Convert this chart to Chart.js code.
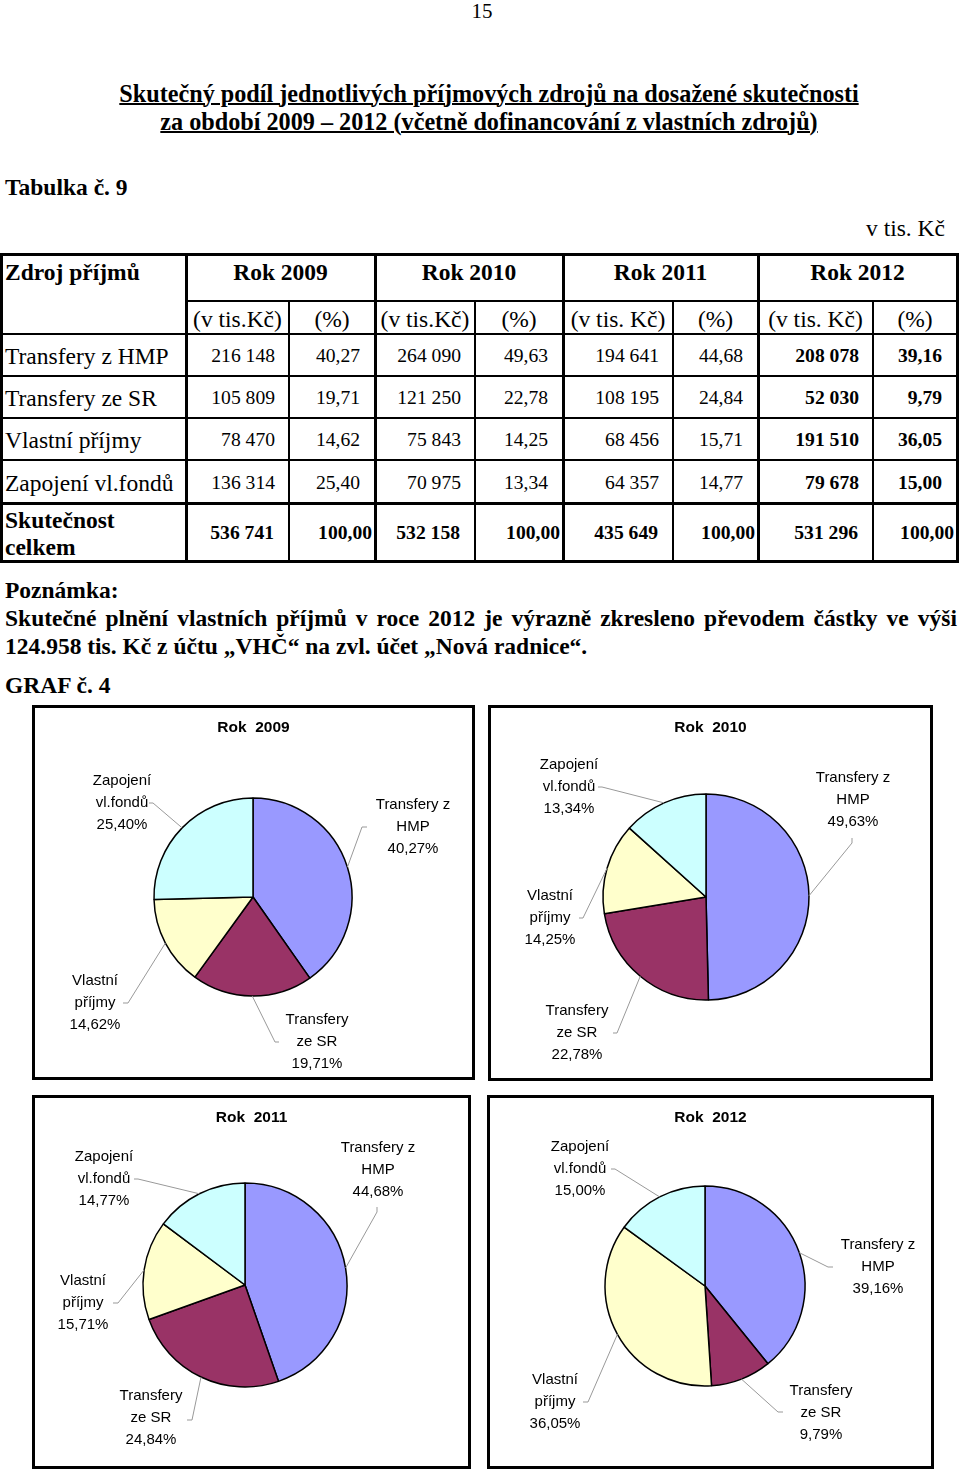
<!DOCTYPE html>
<html lang="cs">
<head>
<meta charset="utf-8">
<title>Graf č. 4</title>
<script src="https://cdn.jsdelivr.net/npm/chart.js"></script>
<style>
  html, body { margin: 0; padding: 0; background: #fff; }
  body { width: 960px; height: 1473px; position: relative; overflow: hidden;
         font-family: "Liberation Serif", "Times New Roman", serif; color: #000; }
  #page { position: absolute; left: 0; top: 0; width: 960px; height: 1473px; }
  .t { position: absolute; white-space: nowrap; }
  .ln { position: absolute; background: #000; }
  .box { position: absolute; border: 3px solid #000; box-sizing: border-box; background: #fff; }
  .box canvas { position: absolute; left: 0; top: 0; }
</style>
</head>
<body>
<div id="page"></div>
<script>
// ---- data ----
const categories = ['Transfery z HMP', 'Transfery ze SR', 'Vlastní příjmy', 'Zapojení vl.fondů'];
const pieLabels = [['Transfery z', 'HMP'], ['Transfery', 'ze SR'], ['Vlastní', 'příjmy'], ['Zapojení', 'vl.fondů']];
const years = ['Rok 2009', 'Rok 2010', 'Rok 2011', 'Rok 2012'];
const unitHeads = ['(v tis.Kč)', '(v tis.Kč)', '(v tis. Kč)', '(v tis. Kč)'];

const amounts2009 = [216148, 105809, 78470, 136314];
const amounts2010 = [264090, 121250, 75843, 70975];
const amounts2011 = [194641, 108195, 68456, 64357];
const amounts2012 = [208078, 52030, 191510, 79678];

const pct2009 = [40.27, 19.71, 14.62, 25.40];
const pct2010 = [49.63, 22.78, 14.25, 13.34];
const pct2011 = [44.68, 24.84, 15.71, 14.77];
const pct2012 = [39.16, 9.79, 36.05, 15.00];

const totals = [536741, 532158, 435649, 531296];

const amounts = [amounts2009, amounts2010, amounts2011, amounts2012];
const pcts = [pct2009, pct2010, pct2011, pct2012];
const colors = ['#9999FF', '#993366', '#FFFFCC', '#CCFFFF'];

// ---- helpers ----
const page = document.getElementById('page');

function num(n) { return String(n).replace(/\B(?=(\d{3})+(?!\d))/g, ' '); }
function pc(p) { return p.toFixed(2).replace('.', ','); }

function txt(x, y, s, o) {
  o = o || {};
  const d = document.createElement('div');
  d.className = 't';
  const size = o.size || 23.5;
  const lh = Math.round(size * 1.2);
  d.style.fontSize = size + 'px';
  d.style.lineHeight = lh + 'px';
  d.style.top = (y - lh / 2) + 'px';
  if (o.bold) d.style.fontWeight = 'bold';
  if (o.u) { d.style.textDecoration = 'underline'; d.style.textDecorationThickness = '2px'; }
  const al = o.align || 'left';
  if (al === 'left') d.style.left = x + 'px';
  else if (al === 'center') { d.style.left = (x - 600) + 'px'; d.style.width = '1200px'; d.style.textAlign = 'center'; }
  else { d.style.left = (x - 1200) + 'px'; d.style.width = '1200px'; d.style.textAlign = 'right'; }
  d.textContent = s;
  page.appendChild(d);
  return d;
}
function hline(x0, x1, y, t) {
  const d = document.createElement('div'); d.className = 'ln';
  d.style.left = x0 + 'px'; d.style.width = (x1 - x0) + 'px';
  d.style.top = Math.round(y - t / 2) + 'px'; d.style.height = t + 'px';
  page.appendChild(d);
}
function vline(x, y0, y1, t) {
  const d = document.createElement('div'); d.className = 'ln';
  d.style.top = y0 + 'px'; d.style.height = (y1 - y0) + 'px';
  d.style.left = Math.round(x - t / 2) + 'px'; d.style.width = t + 'px';
  page.appendChild(d);
}

// ---- page text ----
txt(482, 11, '15', { size: 21, align: 'center' });
txt(489, 93, 'Skutečný podíl jednotlivých příjmových zdrojů na dosažené skutečnosti', { size: 24.2, bold: true, u: true, align: 'center' });
txt(489, 121, 'za období 2009 – 2012 (včetně dofinancování z vlastních zdrojů)', { size: 24.2, bold: true, u: true, align: 'center' });
txt(5, 187, 'Tabulka č. 9', { bold: true });
txt(945, 228, 'v tis. Kč', { align: 'right' });

// ---- table ----
const xs = [1, 186, 289, 375, 475, 563, 673, 758, 873, 957];
const ys = [254, 301, 334, 376, 418, 460, 503, 561];

hline(0, 959, ys[0], 3);
hline(xs[1], 959, ys[1], 2);
for (let k = 2; k <= 5; k++) hline(0, 959, ys[k], 2);
hline(0, 959, ys[6], 3);
hline(0, 959, ys[7], 3);
[0, 1, 3, 5, 7, 9].forEach(i => vline(xs[i], ys[0], ys[7] + 1, 3));
[2, 4, 6, 8].forEach(i => vline(xs[i], ys[1], ys[7] + 1, 2));

txt(5, 272, 'Zdroj příjmů', { bold: true });
years.forEach((y, j) => {
  txt((xs[1 + 2 * j] + xs[3 + 2 * j]) / 2, 272, y, { bold: true, align: 'center' });
  txt((xs[1 + 2 * j] + xs[2 + 2 * j]) / 2, 319, unitHeads[j], { align: 'center' });
  txt((xs[2 + 2 * j] + xs[3 + 2 * j]) / 2, 319, '(%)', { align: 'center' });
});

categories.forEach((c, i) => {
  const yc = (ys[2 + i] + ys[3 + i]) / 2 + 1;
  txt(5, yc, c);
  for (let j = 0; j < 4; j++) {
    const b = j === 3;
    txt(xs[2 + 2 * j] - 14, yc, num(amounts[j][i]), { size: 19.6, bold: b, align: 'right' });
    txt(xs[3 + 2 * j] - 15, yc, pc(pcts[j][i]), { size: 19.6, bold: b, align: 'right' });
  }
});
txt(5, 520, 'Skutečnost', { bold: true });
txt(5, 547, 'celkem', { bold: true });
totals.forEach((t, j) => {
  txt(xs[2 + 2 * j] - 15, 533, num(t), { size: 19.6, bold: true, align: 'right' });
  txt(xs[3 + 2 * j] - 3, 533, pc(100), { size: 19.6, bold: true, align: 'right' });
});

// ---- note ----
txt(5, 590, 'Poznámka:', { bold: true });
const n1 = txt(5, 618, 'Skutečné plnění vlastních příjmů v roce 2012 je výrazně zkresleno převodem částky ve výši', { bold: true });
n1.style.width = '952px'; n1.style.textAlign = 'justify'; n1.style.textAlignLast = 'justify';
txt(5, 646, '124.958 tis. Kč z účtu „VHČ“ na zvl. účet „Nová radnice“.', { bold: true });
txt(5, 685, 'GRAF č. 4', { bold: true });

// ---- pie charts ----
// box position, pie centre/radius (page px) and label placement relative to pie centre
const boxes = [
  { x: 32, y: 705, w: 443, h: 375, cx: 253, cy: 897, r: 99,
    labels: [ { dx: 160, dy: -70, ex: 109, ey: -70, sx: 5, sy: 0 },
              { dx: 64, dy: 145, ex: 22, ey: 145, sx: 4, sy: 0 },
              { dx: -158, dy: 106, ex: -125, ey: 106, sx: -5, sy: 0 },
              { dx: -131, dy: -94, ex: -100, ey: -94, sx: -4, sy: 0 } ] },
  { x: 488, y: 705, w: 445, h: 376, cx: 706, cy: 897, r: 103,
    labels: [ { dx: 147, dy: -97, ex: 146, ey: -54, sx: 0, sy: -5 },
              { dx: -129, dy: 136, ex: -89, ey: 136, sx: -4, sy: 0 },
              { dx: -156, dy: 21, ex: -123, ey: 21, sx: -4, sy: 0 },
              { dx: -137, dy: -110, ex: -104, ey: -110, sx: -4, sy: 0 } ] },
  { x: 32, y: 1095, w: 439, h: 374, cx: 245, cy: 1285, r: 102,
    labels: [ { dx: 133, dy: -115, ex: 132, ey: -73, sx: 0, sy: -5 },
              { dx: -94, dy: 133, ex: -53, ey: 135, sx: -5, sy: 0 },
              { dx: -162, dy: 18, ex: -127, ey: 18, sx: -5, sy: 0 },
              { dx: -141, dy: -106, ex: -107, ey: -106, sx: -4, sy: 0 } ] },
  { x: 487, y: 1095, w: 447, h: 374, cx: 705, cy: 1286, r: 100,
    labels: [ { dx: 173, dy: -19, ex: 123, ey: -19, sx: 5, sy: 0 },
              { dx: 116, dy: 127, ex: 73, ey: 126, sx: 5, sy: 0 },
              { dx: -150, dy: 116, ex: -117, ey: 116, sx: -5, sy: 0 },
              { dx: -125, dy: -117, ex: -90, ey: -117, sx: -4, sy: 0 } ] }
];

boxes.forEach((b, k) => {
  const box = document.createElement('div');
  box.className = 'box';
  box.style.left = b.x + 'px'; box.style.top = b.y + 'px';
  box.style.width = b.w + 'px'; box.style.height = b.h + 'px';
  const cv = document.createElement('canvas');
  const cw = b.w - 6, ch = b.h - 6;
  cv.width = cw; cv.height = ch;
  cv.style.width = cw + 'px'; cv.style.height = ch + 'px';
  box.appendChild(cv);
  page.appendChild(box);

  const px = b.cx - (b.x + 3), py = b.cy - (b.y + 3);

  const labelPlugin = {
    id: 'pieLabels' + k,
    afterDatasetsDraw(chart) {
      const ctx = chart.ctx;
      ctx.save();
      // title
      ctx.fillStyle = '#000';
      ctx.textAlign = 'center';
      ctx.textBaseline = 'middle';
      ctx.font = 'bold 15.5px "Liberation Sans", Arial, sans-serif';
      ctx.fillText(years[k].replace(' ', '  '), cw / 2, 20);

      const meta = chart.getDatasetMeta(0);
      ctx.font = '15px "Liberation Sans", Arial, sans-serif';
      meta.data.forEach((arc, i) => {
        const p = arc.getProps(['x', 'y', 'startAngle', 'endAngle', 'outerRadius'], true);
        const mid = (p.startAngle + p.endAngle) / 2;
        const ax = p.x + Math.cos(mid) * p.outerRadius;
        const ay = p.y + Math.sin(mid) * p.outerRadius;
        const L = b.labels[i];
        const ex = p.x + L.ex, ey = p.y + L.ey;
        ctx.strokeStyle = '#999';
        ctx.lineWidth = 1;
        ctx.beginPath();
        ctx.moveTo(ax, ay);
        ctx.lineTo(ex, ey);
        ctx.lineTo(ex + L.sx, ey + L.sy);
        ctx.stroke();
        const lines = [pieLabels[i][0], pieLabels[i][1], pc(pcts[k][i]) + '%'];
        const tx = p.x + L.dx, ty = p.y + L.dy;
        ctx.fillStyle = '#000';
        lines.forEach((s, m) => ctx.fillText(s, tx, ty + (m - 1) * 21.7));
      });
      ctx.restore();
    }
  };

  new Chart(cv, {
    type: 'pie',
    data: {
      labels: categories,
      datasets: [{
        data: amounts[k],
        backgroundColor: colors,
        borderColor: '#000',
        borderWidth: 1.5,
        radius: b.r
      }]
    },
    options: {
      responsive: false,
      animation: false,
      events: [],
      layout: { padding: { left: px - b.r, right: cw - px - b.r, top: py - b.r, bottom: ch - py - b.r } },
      plugins: {
        legend: { display: false },
        tooltip: { enabled: false }
      }
    },
    plugins: [labelPlugin]
  });
});
</script>
</body>
</html>
